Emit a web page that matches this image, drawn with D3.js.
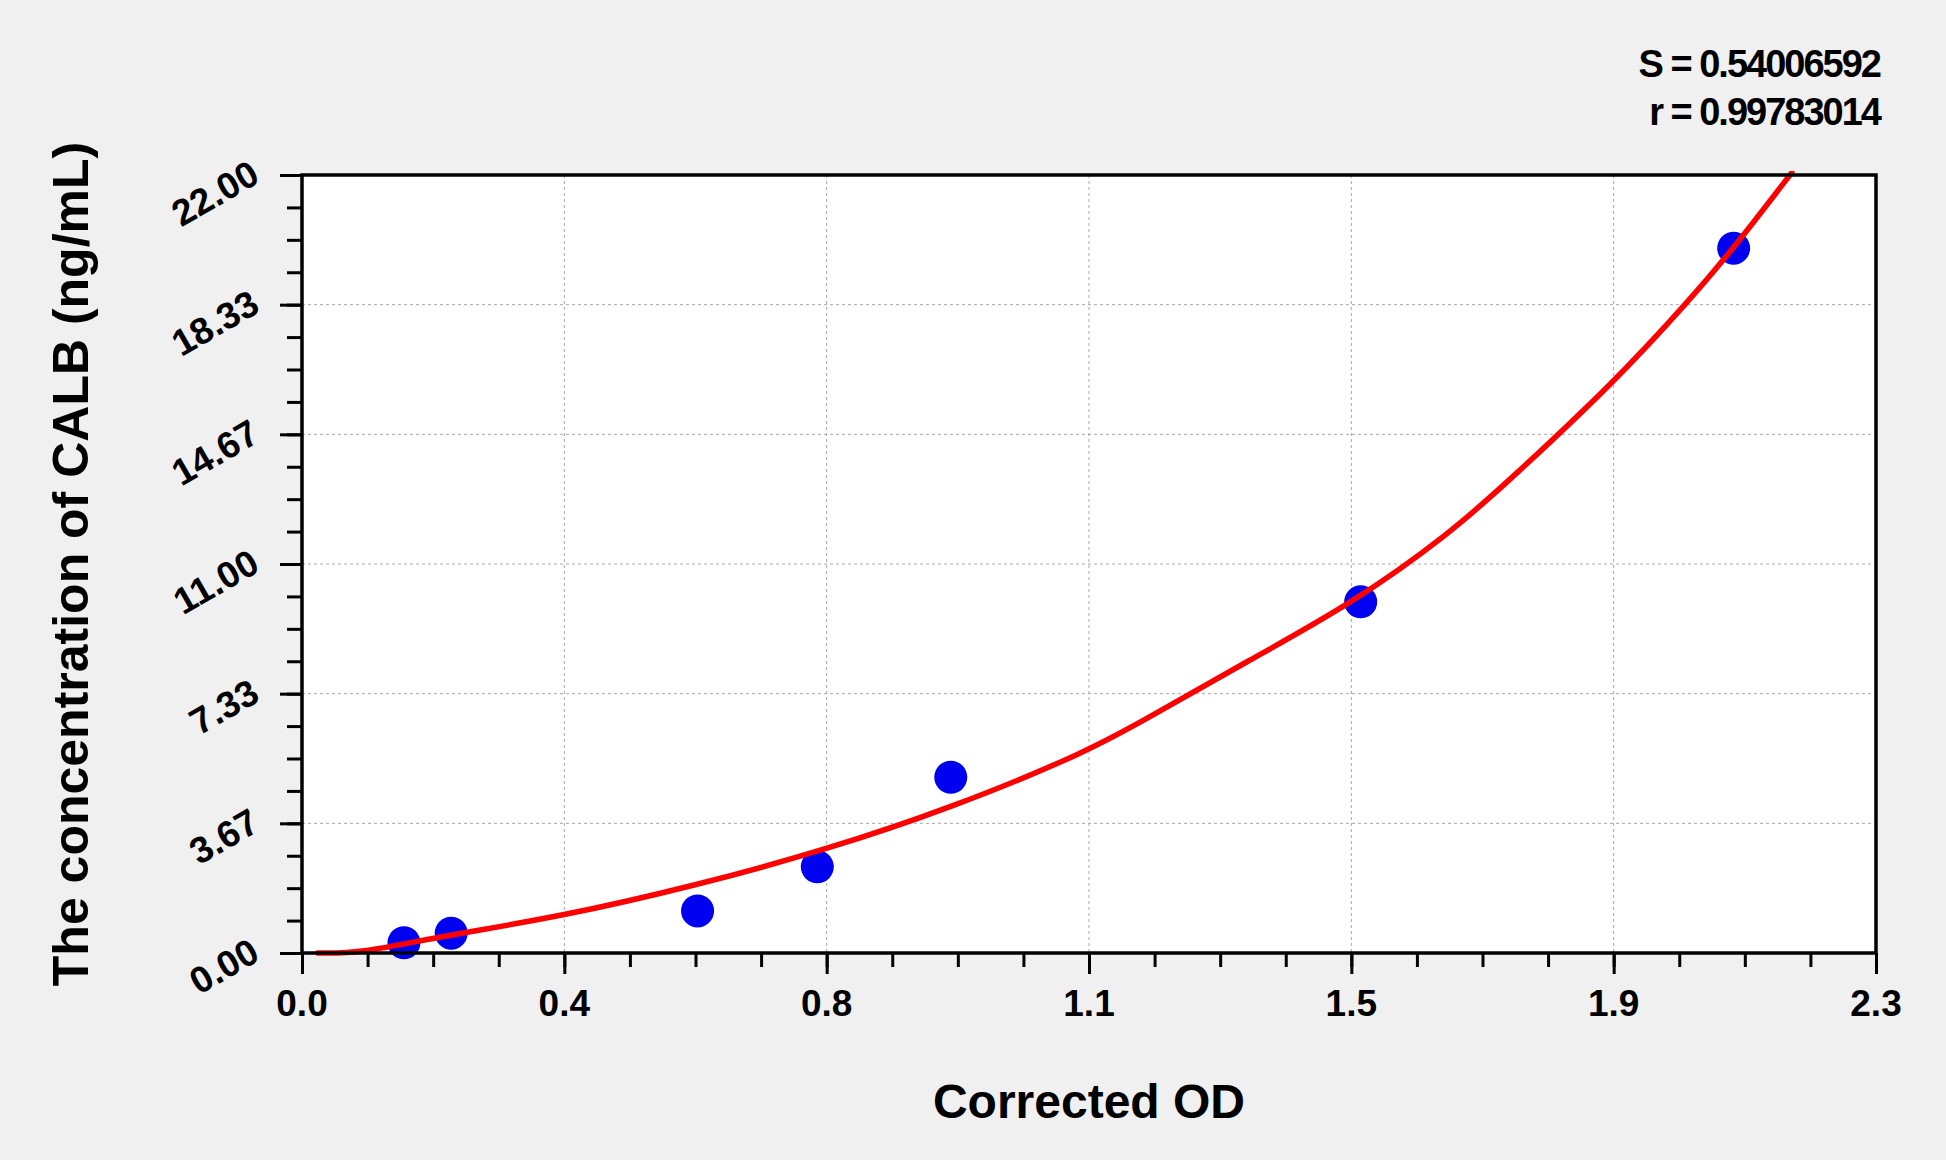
<!DOCTYPE html>
<html>
<head>
<meta charset="utf-8">
<script src="https://cdn.jsdelivr.net/npm/d3@7"></script>
<style>
  body { margin: 0; background: #f0f0f0; }
  text { font-family: "Liberation Sans", Arial, sans-serif; font-weight: bold; fill: #000; }
</style>
</head>
<body>
<script>
// standards
var odValues   = [0.149, 0.218, 0.578, 0.753, 0.948, 1.547, 2.092];
var concValues = [0.29, 0.56, 1.19, 2.44, 4.97, 9.93, 19.93];

// fitted curve, points
var fitOD   = [0.023, 0.088, 0.193, 0.379, 0.578, 0.764, 0.947, 1.148, 1.239, 1.385, 1.531, 1.678, 1.765, 1.916, 2.028, 2.092, 2.177];
var fitConc = [0.0, 0.0, 0.44, 1.03, 1.92, 2.91, 4.09, 5.69, 6.68, 8.29, 9.84, 11.87, 13.38, 16.11, 18.47, 19.93, 22.07];

var xTickLabels = ["0.0", "0.4", "0.8", "1.1", "1.5", "1.9", "2.3"];
var yTickLabels = ["0.00", "3.67", "7.33", "11.00", "14.67", "18.33", "22.00"];
var statLines = ["S = 0.54006592", "r = 0.99783014"];

var w = 1946, h = 1160;
var xMax = 2.3, yMax = 22;
var plot = {left: 302, right: 1876, top: 175, bottom: 953};

var x = d3.scaleLinear().domain([0, xMax]).range([plot.left, plot.right]);
var y = d3.scaleLinear().domain([0, yMax]).range([plot.bottom, plot.top]);

var xMajor = d3.range(7).map(function(i) { return xMax * i / 6; });
var yMajor = d3.range(7).map(function(i) { return yMax * i / 6; });
var xMinor = d3.range(25).map(function(i) { return xMax * i / 24; });
var yMinor = d3.range(25).map(function(i) { return yMax * i / 24; });

var svg = d3.select("body").append("svg")
  .attr("width", w)
  .attr("height", h);

svg.append("rect")
  .attr("x", plot.left).attr("y", plot.top)
  .attr("width", plot.right - plot.left)
  .attr("height", plot.bottom - plot.top)
  .attr("fill", "#fff");

// grid
svg.selectAll("line.vgrid")
  .data(xMajor.slice(1, -1))
  .enter().append("line")
  .attr("class", "vgrid")
  .attr("x1", x).attr("x2", x)
  .attr("y1", plot.top).attr("y2", plot.bottom)
  .attr("stroke", "#a8a8a8").attr("stroke-width", 1).attr("stroke-dasharray", "3,3");

svg.selectAll("line.hgrid")
  .data(yMajor.slice(1, -1))
  .enter().append("line")
  .attr("class", "hgrid")
  .attr("y1", y).attr("y2", y)
  .attr("x1", plot.left).attr("x2", plot.right)
  .attr("stroke", "#a8a8a8").attr("stroke-width", 1).attr("stroke-dasharray", "3,3");

// axes ticks (minor then major)
function styleAxis(g) {
  g.select(".domain").remove();
  g.selectAll(".tick line").attr("stroke", "#000").attr("stroke-width", 3);
  g.selectAll(".tick text").remove();
}

svg.append("g")
  .attr("transform", "translate(0," + plot.bottom + ")")
  .call(d3.axisBottom(x).tickValues(xMinor).tickSize(14))
  .call(styleAxis);
svg.append("g")
  .attr("transform", "translate(0," + plot.bottom + ")")
  .call(d3.axisBottom(x).tickValues(xMajor).tickSize(21))
  .call(styleAxis);
svg.append("g")
  .attr("transform", "translate(" + plot.left + ",0)")
  .call(d3.axisLeft(y).tickValues(yMinor).tickSize(15))
  .call(styleAxis);
svg.append("g")
  .attr("transform", "translate(" + plot.left + ",0)")
  .call(d3.axisLeft(y).tickValues(yMajor).tickSize(22))
  .call(styleAxis);

// tick labels
svg.selectAll("text.xlab")
  .data(xMajor)
  .enter().append("text")
  .attr("class", "xlab")
  .attr("x", x)
  .attr("y", 1016)
  .attr("text-anchor", "middle")
  .style("font-size", "37px")
  .text(function(d, i) { return xTickLabels[i]; });

svg.selectAll("text.ylab")
  .data(yMajor)
  .enter().append("text")
  .attr("class", "ylab")
  .attr("transform", function(d) { return "translate(" + (plot.left - 47) + "," + (y(d) - 5) + ") rotate(-30)"; })
  .attr("dy", "0.35em")
  .attr("text-anchor", "end")
  .style("font-size", "37px")
  .text(function(d, i) { return yTickLabels[i]; });

// points
var pts = odValues.map(function(v, i) { return {od: v, c: concValues[i]}; });
svg.selectAll("circle.std")
  .data(pts)
  .enter().append("circle")
  .attr("class", "std")
  .attr("cx", function(d) { return x(d.od); })
  .attr("cy", function(d) { return y(d.c); })
  .attr("r", 16.5)
  .attr("fill", "#0000f0");

// fitted curve
svg.append("clipPath").attr("id", "clip")
  .append("rect")
  .attr("x", plot.left).attr("y", plot.top - 4)
  .attr("width", plot.right - plot.left)
  .attr("height", plot.bottom - plot.top + 10);

var fit = fitOD.map(function(v, i) { return {od: v, c: fitConc[i]}; });
var line = d3.line()
  .x(function(d) { return x(d.od); })
  .y(function(d) { return y(d.c); })
  .curve(d3.curveBasis);

svg.append("path")
  .datum(fit)
  .attr("clip-path", "url(#clip)")
  .attr("d", line)
  .attr("fill", "none")
  .attr("stroke", "#ff0000")
  .attr("stroke-width", 5.5)
  .attr("stroke-linecap", "round");

// frame
svg.append("rect")
  .attr("x", plot.left).attr("y", plot.top)
  .attr("width", plot.right - plot.left)
  .attr("height", plot.bottom - plot.top)
  .attr("fill", "none")
  .attr("stroke", "#000")
  .attr("stroke-width", 3.5);

// axis titles
svg.append("text")
  .attr("x", (plot.left + plot.right) / 2)
  .attr("y", 1118)
  .attr("text-anchor", "middle")
  .style("font-size", "48px")
  .text("Corrected OD");

svg.append("text")
  .attr("transform", "translate(88," + ((plot.top + plot.bottom) / 2) + ") rotate(-90)")
  .attr("text-anchor", "middle")
  .style("font-size", "50px")
  .text("The concentration of CALB (ng/mL)");

// fit statistics
svg.selectAll("text.stat")
  .data(statLines)
  .enter().append("text")
  .attr("class", "stat")
  .attr("x", 1880)
  .attr("y", function(d, i) { return 77 + i * 48; })
  .attr("text-anchor", "end")
  .style("font-size", "38px")
  .style("letter-spacing", "-2px")
  .text(function(d) { return d; });
</script>
</body>
</html>
